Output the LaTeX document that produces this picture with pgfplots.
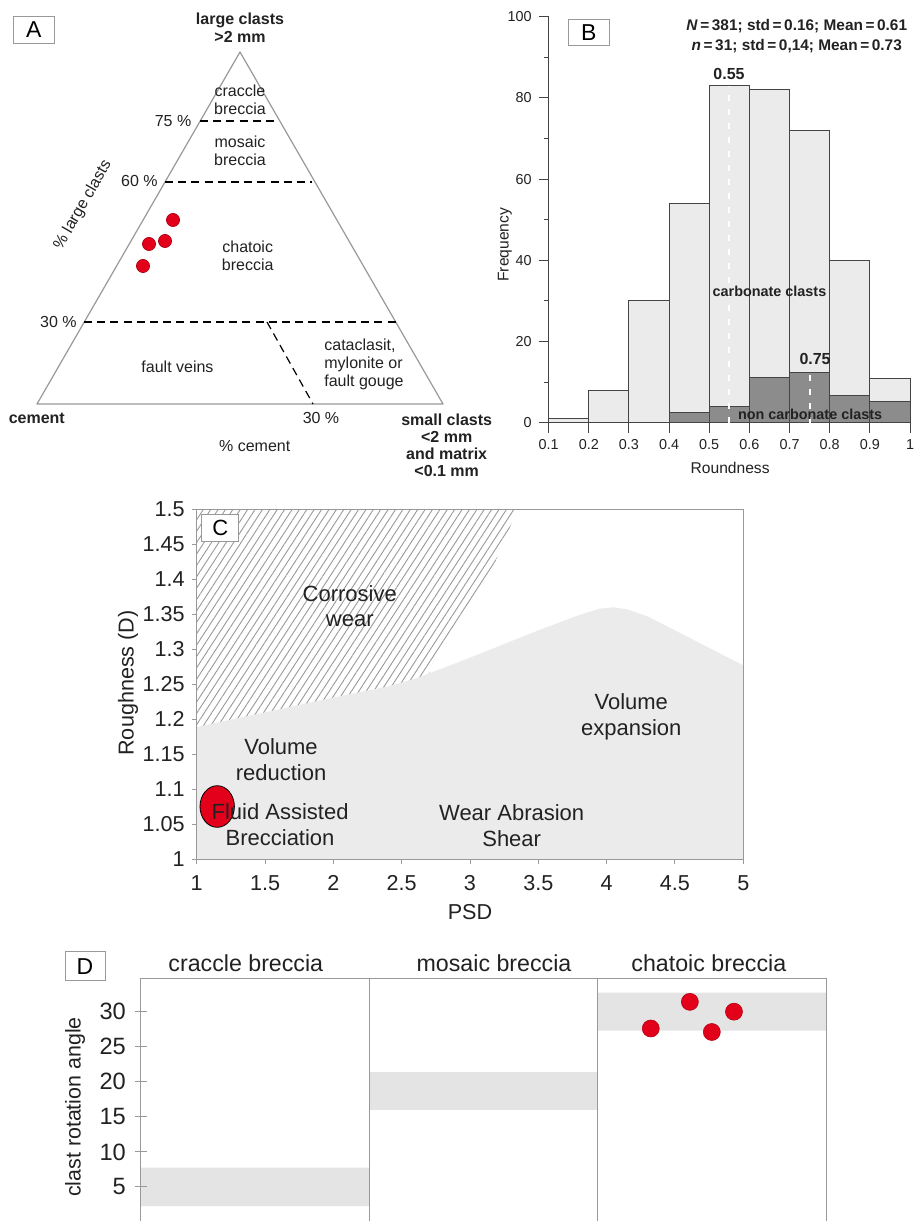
\documentclass[border=0pt]{standalone}
\usepackage{fontspec}
\setmainfont{Liberation Sans}
\usepackage{pgfplots}
\pgfplotsset{compat=1.18}
\usetikzlibrary{patterns.meta}
\definecolor{lightbar}{HTML}{EBEBEB}
\definecolor{darkbar}{HTML}{8C8C8C}
\definecolor{edge}{HTML}{444444}
\definecolor{redpt}{HTML}{E2001A}
\definecolor{band}{HTML}{E4E4E4}
\definecolor{frame}{HTML}{999999}
\definecolor{txt}{HTML}{222222}
\pgfplotsset{every axis/.append style={/pgf/number format/assume math mode=true}}
\newcommand{\setfs}[2]{\fontsize{#1}{#2}\selectfont}

\begin{document}
\begin{tikzpicture}
\path[use as bounding box, fill=white] (0,0) rectangle (457pt,610.5pt);

%================ Panel A (ternary diagram, pixel coordinates) ================
\begin{axis}[at={(115pt,490.5pt)}, anchor=center, scale only axis,
  width=230pt, height=240pt, xmin=0, xmax=460, ymin=0, ymax=480,
  y dir=reverse, axis lines=none, clip=false]
\addplot[frame, line width=0.6pt, line join=round] coordinates {(37,404)(240,52)(443,404)(37,404)(240,52)};
\addplot[black, line width=0.6pt, dash pattern=on 4pt off 2.6pt] coordinates {(200,121)(279,121)};
\addplot[black, line width=0.6pt, dash pattern=on 4pt off 2.6pt] coordinates {(165,182)(312,182)};
\addplot[black, line width=0.6pt, dash pattern=on 4pt off 2.6pt] coordinates {(84,322)(396,322)};
\addplot[black, line width=0.6pt, dash pattern=on 4pt off 2.6pt] coordinates {(267,322)(313,404)};
\addplot[only marks, mark=*, mark size=3.3pt, mark options={fill=redpt, draw=redpt!75!black, line width=0.3pt}]
  coordinates {(173,220)(149,244)(165,241)(143,266)};
\node[draw=frame, line width=0.5pt, minimum width=20.5pt, minimum height=13.3pt, inner sep=0pt, font=\setfs{11.5}{13}] at (axis cs:33.8,30) {A};
\node[font=\setfs{8}{8.85}\bfseries, align=center, text=txt] at (axis cs:240,27.5) {large clasts\\>2 mm};
\node[font=\setfs{8}{9.15}, align=center, text=txt] at (axis cs:240,99.5) {craccle\\breccia};
\node[font=\setfs{8}{9.15}, align=center, text=txt] at (axis cs:240,150.5) {mosaic\\breccia};
\node[font=\setfs{8}{9.15}, align=center, text=txt] at (axis cs:247.7,255.5) {chatoic\\breccia};
\node[font=\setfs{8}{9}, anchor=east, inner sep=0pt, text=txt] at (axis cs:191.7,120.7) {75 \%};
\node[font=\setfs{8}{9}, anchor=east, inner sep=0pt, text=txt] at (axis cs:158,181) {60 \%};
\node[font=\setfs{8}{9}, anchor=east, inner sep=0pt, text=txt] at (axis cs:77,321.7) {30 \%};
\node[font=\setfs{8}{9}, rotate=60, inner sep=0pt, text=txt] at (axis cs:83,205) {\% large clasts};
\node[font=\setfs{8}{9}, text=txt] at (axis cs:177.5,366.7) {fault veins};
\node[font=\setfs{8}{8.9}, align=left, anchor=west, inner sep=0pt, text=txt] at (axis cs:324,364.3) {cataclasit,\\mylonite or\\fault gouge};
\node[font=\setfs{8}{9}\bfseries, text=txt] at (axis cs:36.8,418.3) {cement};
\node[font=\setfs{8}{9}, text=txt] at (axis cs:321,418.3) {30 \%};
\node[font=\setfs{8}{9}, text=txt] at (axis cs:254.7,446) {\% cement};
\node[font=\setfs{8}{8.55}\bfseries, align=center, text=txt] at (axis cs:446.7,445) {small clasts\\<2 mm\\and matrix\\<0.1 mm};
\end{axis}

%================ Panel B (histogram) ================
\begin{axis}[at={(364.65pt,500.65pt)}, anchor=center, scale only axis,
  width=180.7pt, height=203pt, xmin=0.1, xmax=1, ymin=0, ymax=100,
  axis x line*=bottom, axis y line*=left,
  axis line style={edge, line width=0.6pt},
  xtick={0.1,0.2,0.3,0.4,0.5,0.6,0.7,0.8,0.9,1},
  ytick={0,20,40,60,80,100}, minor ytick={10,30,50,70,90},
  tick align=outside, major tick length=5pt, minor tick length=2.5pt,
  every tick/.style={edge, line width=0.5pt},
  ticklabel style={font=\setfs{7.2}{8}, text=txt},
  clip=false]
\addplot[ybar interval, fill=lightbar, draw=edge, line width=0.5pt]
  coordinates {(0.1,1)(0.2,8)(0.3,30)(0.4,54)(0.5,83)(0.6,82)(0.7,72)(0.8,40)(0.9,11)(1.0,11)};
\addplot[ybar interval, fill=darkbar, draw=edge, line width=0.5pt]
  coordinates {(0.4,2.5)(0.5,4)(0.6,11.1)(0.7,12.4)(0.8,6.7)(0.9,5.3)(1.0,5.3)};
\addplot[white, line width=1.1pt, dash pattern=on 3pt off 4pt] coordinates {(0.55,0)(0.55,83)};
\addplot[white, line width=1.1pt, dash pattern=on 3pt off 4pt] coordinates {(0.75,0)(0.75,12.4)};
\node[draw=frame, line width=0.5pt, fill=white, minimum width=20.5pt, minimum height=13.3pt, inner sep=0pt, font=\setfs{11.5}{13}] at (axis cs:0.2,96.06) {B};
\node[font=\setfs{7.7}{10}\bfseries, align=center, text=txt] at (axis cs:0.718,95.1)
  {\textit{N}\,=\,381; std\,=\,0.16; Mean\,=\,0.61\\\textit{n}\,=\,31; std\,=\,0,14; Mean\,=\,0.73};
\node[font=\setfs{8}{9}\bfseries, text=txt] at (axis cs:0.5494,85.9) {0.55};
\node[font=\setfs{8}{9}\bfseries, text=txt] at (axis cs:0.7636,15.6) {0.75};
\node[font=\setfs{7.2}{8}\bfseries, text=txt] at (axis cs:0.65,32.4) {carbonate clasts};
\node[font=\setfs{7.2}{8}\bfseries, text=txt] at (axis cs:0.7512,2.14) {non carbonate clasts};
\node[font=\setfs{7.8}{9}, rotate=90, text=txt] at (axis cs:-0.0086,43.8) {Frequency};
\node[font=\setfs{7.8}{9}, text=txt] at (axis cs:0.552,-11.2) {Roundness};
\end{axis}

%================ Panel C (roughness vs PSD) ================
\begin{axis}[at={(235pt,268.35pt)}, anchor=center, scale only axis,
  width=273.3pt, height=175pt, xmin=1, xmax=5, ymin=1, ymax=1.5,
  axis on top,
  axis line style={frame, line width=0.6pt},
  xtick={1,1.5,2,2.5,3,3.5,4,4.5,5},
  ytick={1,1.05,1.1,1.15,1.2,1.25,1.3,1.35,1.4,1.45,1.5},
  tick pos=left, tick align=outside, major tick length=2.5pt,
  every tick/.style={frame, line width=0.5pt},
  ticklabel style={font=\setfs{10.8}{12}, text=txt},
  xticklabel style={yshift=-2pt},
  clip=false]
\addplot[draw=none, pattern={Lines[angle=57,distance=3.1pt,line width=0.45pt]}, pattern color=gray!80]
  coordinates {(1,1.15)(1,1.5)(3.33,1.5)(3.304,1.48)(3.17,1.418)(3.048,1.38)(2.926,1.342)(2.816,1.304)(2.707,1.27)(2.65,1.15)(1,1.15)};
\addplot[fill=lightbar, draw=none]
  coordinates {(1,1)(1,1.189)(1.5,1.21)(2,1.231)(2.4,1.247)(2.6,1.258)(3,1.288)(3.5,1.327)(3.8,1.349)(3.95,1.358)(4.05,1.36)(4.15,1.357)(4.3,1.347)(4.5,1.327)(4.75,1.302)(5,1.277)(5,1)(1,1)};
\addplot[only marks, mark=*, mark size=8.6pt, mark options={yscale=1.21, fill=redpt, draw=none}]
  coordinates {(1.15,1.0754)};
\node[draw=frame, line width=0.5pt, fill=white, minimum width=18.5pt, minimum height=13.3pt, inner sep=0pt, font=\setfs{11}{13}] at (axis cs:1.173,1.4736) {C};
\node[font=\setfs{10.8}{12}, rotate=90, text=txt] at (axis cs:0.497,1.2519) {Roughness (D)};
\node[font=\setfs{10.8}{12}, text=txt] at (axis cs:3,0.9247) {PSD};
\end{axis}
% text layer of panel C, drawn over its marks
\begin{axis}[at={(235pt,268.35pt)}, anchor=center, scale only axis,
  width=273.3pt, height=175pt, xmin=1, xmax=5, ymin=1, ymax=1.5,
  axis lines=none, clip=false]
\node[font=\setfs{11}{12.5}, align=center, text=txt] at (axis cs:2.12,1.362) {Corrosive\\wear};
\node[font=\setfs{11}{12.8}, align=center, text=txt] at (axis cs:1.617,1.1426) {Volume\\reduction};
\node[font=\setfs{11}{12.8}, align=center, text=txt] at (axis cs:1.61,1.0497) {Fluid Assisted\\Brecciation};
\node[font=\setfs{11}{12.8}, align=center, text=txt] at (axis cs:3.305,1.0485) {Wear Abrasion\\Shear};
\node[font=\setfs{11}{12.8}, align=center, text=txt] at (axis cs:4.18,1.2035) {Volume\\expansion};
\end{axis}

%================ Panel D (clast rotation angle) ================
\begin{axis}[at={(241.75pt,60.425pt)}, anchor=center, scale only axis,
  width=342.8pt, height=121.85pt, xmin=0, xmax=3, ymin=0, ymax=34.76,
  axis line style={frame, line width=0.6pt},
  xtick=\empty, ytick={5,10,15,20,25,30},
  tick pos=left, tick align=center, major tick length=5.85pt,
  every tick/.style={frame, line width=0.5pt},
  yticklabel style={font=\setfs{11.8}{13}, text=txt, xshift=-1pt},
  clip=false, axis on top]
\addplot[fill=band, draw=none] coordinates {(0,2.28)(1,2.28)(1,7.75)(0,7.75)(0,2.28)};
\addplot[fill=band, draw=none] coordinates {(1,16.0)(2,16.0)(2,21.38)(1,21.38)(1,16.0)};
\addplot[fill=band, draw=none] coordinates {(2,27.3)(3,27.3)(3,32.7)(2,32.7)(2,27.3)};
\addplot[frame, line width=0.6pt] coordinates {(1,0)(1,34.76)};
\addplot[frame, line width=0.6pt] coordinates {(2,0)(2,34.76)};
\addplot[only marks, mark=*, mark size=4.25pt, mark options={fill=redpt, draw=redpt!80!black, line width=0.3pt}]
  coordinates {(2.232,27.6)(2.403,31.4)(2.499,27.1)(2.596,30.0)};
\node[draw=frame, line width=0.5pt, fill=white, minimum width=20pt, minimum height=14.5pt, inner sep=0pt, font=\setfs{11.5}{13}] at (axis cs:-0.2437,36.48) {D};
\node[font=\setfs{11.6}{13}, text=txt] at (axis cs:0.46,36.9) {craccle breccia};
\node[font=\setfs{11.6}{13}, text=txt] at (axis cs:1.546,36.9) {mosaic breccia};
\node[font=\setfs{11.6}{13}, text=txt] at (axis cs:2.486,36.9) {chatoic breccia};
\node[font=\setfs{10.7}{12}, rotate=90, text=txt] at (axis cs:-0.2875,16.4) {clast rotation angle};
\end{axis}
\end{tikzpicture}
\end{document}
